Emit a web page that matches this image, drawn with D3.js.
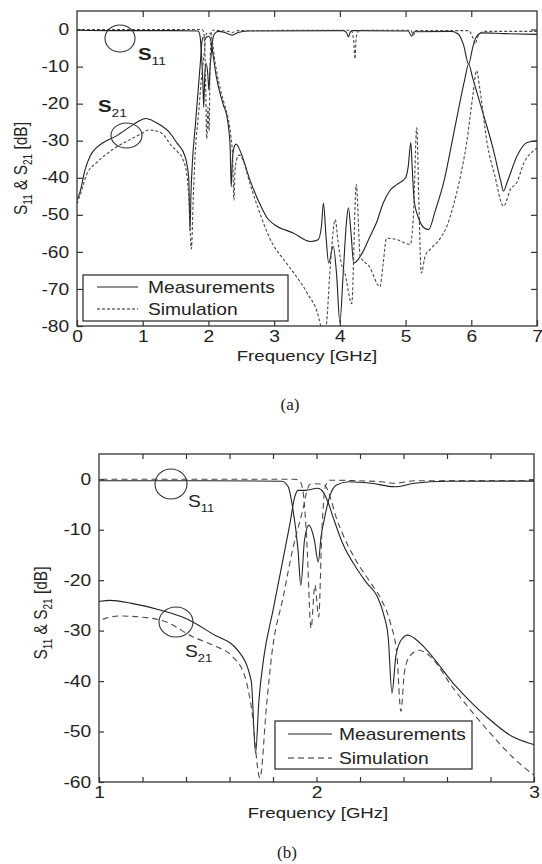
<!DOCTYPE html>
<html>
<head>
<meta charset="utf-8">
<script src="https://cdn.jsdelivr.net/npm/d3@7"></script>
<style>
  body { margin: 0; background: #fff; }
  svg { display: block; }
</style>
</head>
<body>
<div id="chart"></div>
<script>
// S-parameters (GHz / dB)
var s11MeasFreq = [0, 0.5, 1.5, 1.84, 1.87, 1.89, 1.915, 1.928, 1.945, 1.965, 1.99, 2.008, 2.022, 2.035, 2.06, 2.09, 2.15, 2.25, 2.36, 2.45, 2.6,
    4.05, 4.1, 4.13, 4.16, 4.2, 5.04, 5.09, 5.13, 5.7, 5.8, 5.88, 5.96, 6.02, 6.07, 6.16, 6.5, 7.0];
var s11MeasDb = [-0.2, -0.3, -0.3, -0.4, -1.5, -5.5, -14, -21, -12, -9.1, -12, -16.4, -11, -8.1, -3.5, -1.2, -0.5, -0.8, -1.5, -0.8, -0.4,
    -0.3, -0.8, -2, -0.6, -0.3, -0.4, -1.8, -0.6, -0.5, -1.2, -4, -9.3, -5, -2.2, -0.9, -1.1, -1.3];

var s11SimFreq = [0, 1.9, 1.925, 1.94, 1.955, 1.975, 1.993, 2.01, 2.025, 2.04, 2.06, 2.3, 2.36, 2.45,
    4.17, 4.21, 4.23, 4.25, 4.3, 5.08, 5.12, 5.15, 5.96, 6.02, 6.06, 6.1, 6.2, 7.0];
var s11SimDb = [0, 0, -0.5, -3, -12, -29.5, -21, -27.3, -10, -1.5, -0.2, -0.5, -0.8, -0.3,
    -0.2, -3, -7.9, -2, -0.2, -0.2, -1.5, -0.3, -0.3, -2, -3.9, -1.8, -0.5, -0.5];

var s21MeasFreq = [0, 0.05, 0.12, 0.2, 0.3, 0.4, 0.6, 0.86, 1.0, 1.05, 1.15, 1.28, 1.4, 1.52, 1.64, 1.7, 1.72, 1.735, 1.757, 1.8, 1.85,
    1.877, 1.9, 1.915, 1.95, 2.005, 2.03, 2.05, 2.08, 2.12, 2.18, 2.23, 2.28, 2.31, 2.33, 2.347, 2.365, 2.39, 2.42, 2.45, 2.5,
    2.63, 2.78, 2.9, 3.0, 3.29, 3.55, 3.67, 3.72, 3.75, 3.79, 3.83, 3.9, 3.95, 4.0, 4.05, 4.1, 4.13, 4.17, 4.21, 4.28, 4.35,
    4.46, 4.56, 4.66, 4.76, 4.87, 5.0, 5.04, 5.08, 5.1, 5.13, 5.2, 5.28, 5.35, 5.45, 5.59, 5.7, 5.8, 5.9, 5.96, 6.02, 6.16,
    6.33, 6.45, 6.49, 6.55, 6.7, 6.85, 7.0];
var s21MeasDb = [-46, -43.6, -38, -34.1, -31.8, -30.5, -28.7, -25.6, -24.2, -24, -24.6, -25.9, -27.6, -30.6, -34, -40, -54.3, -44, -35.5, -26, -15,
    -9, -3.5, -2.2, -2.2, -1.8, -2.5, -4.2, -8, -12.7, -17.4, -20.5, -23.3, -27, -31.5, -42.4, -35, -31.8, -30.9, -31.5, -33.5,
    -40.5, -47, -51, -52.6, -54.9, -57.2, -56.7, -53, -46.8, -56, -63, -58.5, -66, -79, -66, -52, -48.1, -55, -63, -62, -60,
    -55.8, -52, -46.8, -43.5, -41.8, -40, -37, -30.5, -37, -46, -51, -53.5, -54, -49, -40.5, -31, -22, -13.5, -9.3, -13, -21.5,
    -32, -41, -43.6, -41, -34, -30.5, -30];

var s21SimFreq = [0, 0.05, 0.15, 0.3, 0.55, 0.86, 1.0, 1.09, 1.19, 1.31, 1.43, 1.53, 1.61, 1.67, 1.7, 1.74, 1.77, 1.795, 1.847, 1.89,
    1.94, 1.955, 1.97, 1.99, 2.03, 2.05, 2.065, 2.09, 2.12, 2.18, 2.25, 2.3, 2.34, 2.37, 2.388, 2.405, 2.43, 2.47, 2.52, 2.63,
    2.78, 2.9, 2.99, 3.1, 3.34, 3.5, 3.7, 3.75, 3.8, 3.85, 3.93, 3.97, 4.02, 4.08, 4.18, 4.25, 4.31, 4.45, 4.61, 4.66, 4.71,
    4.87, 5.07, 5.12, 5.17, 5.2, 5.24, 5.3, 5.37, 5.53, 5.63, 5.72, 5.83, 5.93, 6.03, 6.08, 6.13, 6.24, 6.36, 6.49, 6.6, 6.69,
    6.8, 6.94, 7.0];
var s21SimDb = [-47, -44.5, -39, -35.9, -32.3, -29.2, -27.9, -27.1, -27.3, -28.3, -31.2, -33, -35, -39, -45, -59.2, -45, -34.5, -23.3, -14,
    -5.5, -2.5, -1, -0.9, -1, -2, -3.8, -7.5, -10.8, -16, -20.6, -24, -28.5, -35, -46, -38, -35, -33.9, -35, -41.5,
    -49.4, -55, -58.3, -61, -66.7, -71, -79.3, -84, -79, -65, -51.3, -57, -63, -66, -74, -41.8, -61.2, -64, -69.4, -63, -56.3,
    -56.7, -58, -50, -26.5, -45, -65.7, -61, -59.4, -56.3, -53, -48, -40, -30.5, -17, -11.1, -16, -30.5, -39.6, -47.7, -43, -41.4,
    -36, -32.8, -32];

var legendLabels = ["Measurements", "Simulation"];

var width = 542,
    height = 864;
var FONT = "'Liberation Sans', Arial, sans-serif";
var SX = 1.2; // the scanned figure is stretched sideways a bit

var svg = d3.select("#chart")
    .append("svg")
    .attr("xmlns", "http://www.w3.org/2000/svg")
    .attr("width", width)
    .attr("height", height);

function zip(f, v) {
    return f.map(function (d, i) { return [d, v[i]]; });
}

var series = [
    { pts: zip(s11MeasFreq, s11MeasDb), dashed: false },
    { pts: zip(s21MeasFreq, s21MeasDb), dashed: false },
    { pts: zip(s11SimFreq, s11SimDb), dashed: true },
    { pts: zip(s21SimFreq, s21SimDb), dashed: true }
];

// plain hyphen like the original, not the unicode minus
var intFormat = function (v) { return String(Math.round(v)); };

// S with a subscript, used for annotations
function sLabel(g, x, y, sub, size, weight) {
    var t = g.append("text")
        .attr("transform", "translate(" + x + "," + y + ") scale(" + SX + ",1)")
        .attr("font-family", FONT)
        .attr("font-size", size)
        .attr("font-weight", weight)
        .attr("fill", "#222");
    t.append("tspan").text("S");
    t.append("tspan").attr("dy", size * 0.3).attr("font-size", size * 0.68).attr("font-weight", "normal").text(sub);
}

function panel(p) {
    var x = d3.scaleLinear().domain(p.xDomain).range([p.left, p.right]);
    var y = d3.scaleLinear().domain(p.yDomain).range([p.bottom, p.top]);
    var g = svg.append("g");

    g.append("clipPath").attr("id", "clip" + p.id)
        .append("rect")
        .attr("x", p.left).attr("y", p.top)
        .attr("width", p.right - p.left).attr("height", p.bottom - p.top);

    var line = d3.line()
        .x(function (d) { return x(d[0]); })
        .y(function (d) { return y(d[1]); })
        .curve(d3.curveMonotoneX);

    series.forEach(function (s) {
        g.append("path")
            .attr("clip-path", "url(#clip" + p.id + ")")
            .attr("d", line(s.pts))
            .attr("fill", "none")
            .attr("stroke", s.dashed ? "#4a4a4a" : "#222")
            .attr("stroke-width", 1.1)
            .attr("stroke-dasharray", s.dashed ? p.dash : null);
    });

    // axes, ticks pointing inwards
    var xb = g.append("g").attr("transform", "translate(0," + p.bottom + ")")
        .call(d3.axisBottom(x).tickValues(p.xTicks).tickSizeInner(-p.tick).tickSizeOuter(0)
            .tickPadding(5).tickFormat(p.xFormat));
    var xt = g.append("g").attr("transform", "translate(0," + p.top + ")")
        .call(d3.axisTop(x).tickValues(p.xTicks.filter(function (v) {
            return v > p.xDomain[0] && v < p.xDomain[1];
        })).tickSizeInner(-p.tick).tickSizeOuter(0).tickFormat(""));
    var yl = g.append("g").attr("transform", "translate(" + p.left + ",0)")
        .call(d3.axisLeft(y).tickValues(p.yTicks).tickSizeInner(-p.tick).tickSizeOuter(0)
            .tickPadding(6.5).tickFormat(intFormat));
    var yr = g.append("g").attr("transform", "translate(" + p.right + ",0)")
        .call(d3.axisRight(y).tickValues(p.yTicks.filter(function (v) {
            return v > p.yDomain[0];
        })).tickSizeInner(-p.tick).tickSizeOuter(0).tickFormat(""));

    [xb, xt, yl, yr].forEach(function (a) {
        a.select(".domain").remove();
        a.selectAll("line").attr("stroke", "#333").attr("stroke-width", 1.2);
        a.selectAll("text")
            .attr("font-family", FONT)
            .attr("font-size", 16)
            .attr("fill", "#222")
            .attr("transform", "scale(" + SX + ",1)");
    });

    g.append("rect")
        .attr("x", p.left).attr("y", p.top)
        .attr("width", p.right - p.left).attr("height", p.bottom - p.top)
        .attr("fill", "none")
        .attr("stroke", "#333")
        .attr("stroke-width", 1.3);

    // axis titles
    g.append("text")
        .attr("transform", "translate(" + p.xTitle[0] + "," + p.xTitle[1] + ") scale(" + SX + ",1)")
        .attr("text-anchor", "middle")
        .attr("font-family", FONT)
        .attr("font-size", p.titleSize)
        .attr("fill", "#222")
        .text("Frequency [GHz]");

    var yt = g.append("text")
        .attr("transform", "translate(" + p.yTitle[0] + "," + p.yTitle[1] + ") rotate(-90) scale(1," + SX + ")")
        .attr("text-anchor", "middle")
        .attr("font-family", FONT)
        .attr("font-size", p.titleSize)
        .attr("fill", "#222");
    yt.append("tspan").text("S");
    yt.append("tspan").attr("dy", 4).attr("font-size", 10).text("11");
    yt.append("tspan").attr("dy", -4).text(" & S");
    yt.append("tspan").attr("dy", 4).attr("font-size", 10).text("21");
    yt.append("tspan").attr("dy", -4).text(" [dB]");

    // annotation circles and labels
    p.circles.forEach(function (c) {
        g.append("ellipse")
            .attr("cx", c[0]).attr("cy", c[1]).attr("rx", c[2]).attr("ry", c[3])
            .attr("fill", "none").attr("stroke", "#333").attr("stroke-width", 1.1);
    });
    p.labels.forEach(function (l) {
        sLabel(g, l[0], l[1], l[2], p.labelSize, p.labelWeight);
    });

    // legend
    var lg = g.append("g");
    lg.append("rect")
        .attr("x", p.legend.x).attr("y", p.legend.y)
        .attr("width", p.legend.w).attr("height", p.legend.h)
        .attr("fill", "#fff").attr("stroke", "#333").attr("stroke-width", 1.3);
    legendLabels.forEach(function (name, i) {
        var cy = p.legend.rows[i];
        lg.append("line")
            .attr("x1", p.legend.s0).attr("x2", p.legend.s1)
            .attr("y1", cy).attr("y2", cy)
            .attr("stroke", "#222").attr("stroke-width", 1.1)
            .attr("stroke-dasharray", i === 1 ? p.dash : null);
        lg.append("text")
            .attr("transform", "translate(" + p.legend.tx + "," + cy + ") scale(" + SX + ",1)")
            .attr("dy", "0.36em")
            .attr("font-family", FONT)
            .attr("font-size", 16)
            .attr("fill", "#222")
            .text(name);
    });

    svg.append("text")
        .attr("x", p.caption[0]).attr("y", p.caption[1])
        .attr("text-anchor", "middle")
        .attr("font-family", "'Liberation Serif', 'Times New Roman', serif")
        .attr("font-size", 17)
        .attr("fill", "#222")
        .text(p.caption[2]);
}

// (a) full band
panel({
    id: "a",
    left: 77, right: 537, top: 11, bottom: 326,
    xDomain: [0, 7], yDomain: [-80, 5],
    xTicks: d3.range(0, 8), xFormat: intFormat,
    yTicks: d3.range(0, -81, -10),
    tick: 6, dash: "3,2",
    titleSize: 15.5,
    xTitle: [307, 361], yTitle: [27, 168.5],
    circles: [[120, 38.5, 15, 13.5], [126.5, 135.5, 15.5, 12.5]],
    labels: [[138, 60, "11"], [98, 112, "21"]],
    labelSize: 17, labelWeight: "bold",
    legend: { x: 83, y: 275, w: 205, h: 46, s0: 97, s1: 138, tx: 148, rows: [287, 309] },
    caption: [290, 410, "(a)"]
});

// (b) passband detail
panel({
    id: "b",
    left: 99, right: 534, top: 454, bottom: 782,
    xDomain: [1, 3], yDomain: [-60, 5],
    xTicks: d3.range(0, 11).map(function (i) { return 1 + i * 0.2; }),
    xFormat: function (v) { return Math.abs(v - Math.round(v)) < 1e-6 ? String(Math.round(v)) : ""; },
    yTicks: d3.range(0, -61, -10),
    tick: 5, dash: "6,4",
    titleSize: 15.5,
    xTitle: [318, 818], yTitle: [47, 613],
    circles: [[171, 484, 16, 15], [176, 622, 17, 15]],
    labels: [[188, 507, "11"], [185, 657, "21"]],
    labelSize: 16, labelWeight: "normal",
    legend: { x: 275, y: 721, w: 197, h: 48, s0: 288, s1: 332, tx: 339, rows: [734, 758] },
    caption: [287, 858, "(b)"]
});
</script>
</body>
</html>
